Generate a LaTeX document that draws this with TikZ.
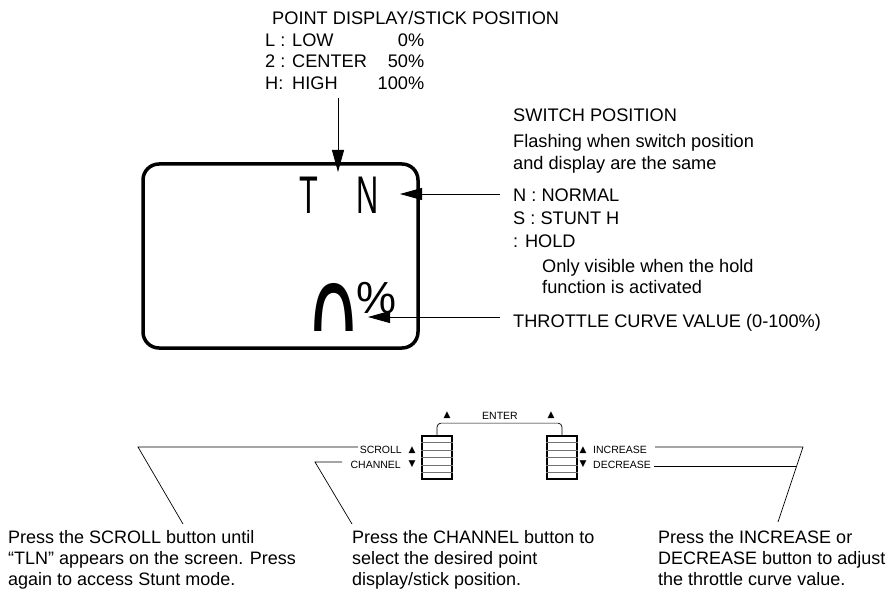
\documentclass[tikz,border=0pt]{standalone}
\usepackage{fontspec}
\usepackage{graphicx}
\setmainfont{Liberation Sans}
\newfontfamily\symfont{DejaVu Sans}
\usetikzlibrary{arrows.meta,calc}
\begin{document}
\begin{tikzpicture}[x=1pt,y=-1pt,
  lbl/.style={anchor=base west, inner sep=0pt, font=\fontsize{18.2}{21}\selectfont},
  para/.style={anchor=north west, align=left, inner sep=0pt, font=\fontsize{18}{21}\selectfont},
  small/.style={inner sep=0pt, font=\fontsize{10.5}{12}\selectfont},
  tri/.style={inner sep=0pt, font=\symfont\fontsize{9}{9}\selectfont},
  ptr/.style={line width=0.9pt, -{Triangle[length=22pt,width=12pt]}},
  lead/.style={line width=0.7pt},
  btnbox/.style={draw, line width=1.8pt, minimum width=30pt, minimum height=43pt, inner sep=0pt},
  btnline/.style={line width=0.8pt, black!55}]
\useasboundingbox (0,0) rectangle (888,593);

% top block
\node[lbl] (hdr) at (272,25) {POINT DISPLAY/STICK POSITION};
\node[lbl] (pl) at (265,47) {\makebox[159pt][l]{\makebox[27pt][l]{L :}LOW\hfill 0\%}};
\node[lbl] (pc) at (265,68) {\makebox[159pt][l]{\makebox[27pt][l]{2 :}CENTER\hfill 50\%}};
\node[lbl] (ph) at (265,90) {\makebox[159pt][l]{\makebox[27pt][l]{H:}HIGH\hfill 100\%}};
\coordinate (ptTop) at (338,98);
\coordinate (ptTip) at (338,172);
\draw[ptr] (ptTop) -- (ptTip);

% display
\node[draw, line width=3.5pt, rounded corners=16pt, minimum width=275pt, minimum height=184pt, inner sep=0pt] (disp) at (280.5,256) {};
\node[anchor=base, inner sep=0pt] (dT) at (308.5,214) {\scalebox{0.58}[1]{\fontsize{53}{53}\selectfont T}};
\node[anchor=base, inner sep=0pt] (dN) at (367.5,214) {\scalebox{0.58}[1]{\fontsize{53}{53}\selectfont N}};
\begin{scope}
\clip (143,164) rectangle (418,330);
\node[anchor=base, inner sep=0pt] (dZero) at (334,380) {\scalebox{0.58}[1]{\fontsize{139}{139}\selectfont 0}};
\end{scope}
\node[anchor=base west, inner sep=0pt] (dPct) at (356,313) {\fontsize{45}{45}\selectfont\%};

% right labels
\node[lbl] (swh) at (513,122) {SWITCH POSITION};
\node[lbl] (sw1) at (513,148) {Flashing when switch position};
\node[lbl] (sw2) at (513,170) {and display are the same};
\node[lbl] (swn) at (513,202) {N : NORMAL};
\node[lbl] (sws) at (513,225) {S : STUNT H};
\node[lbl] (swhold) at (513,248) {: HOLD};
\node[lbl] (hold1) at (542,273) {Only visible when the hold};
\node[lbl] (hold2) at (542,294) {function is activated};
\node[lbl] (thr) at (513,327) {THROTTLE CURVE VALUE (0-100\%)};
\coordinate (nA) at (500,194);
\coordinate (nTip) at (400,194);
\draw[ptr] (nA) -- (nTip);
\coordinate (tA) at (500,317);
\coordinate (tTip) at (368,317);
\draw[ptr] (tA) -- (tTip);

% buttons
\node[btnbox] (lb) at (437,457.5) {};
\node[btnbox] (rb) at (562,457.5) {};
\foreach \b in {lb,rb}{
  \foreach \i in {1,...,5}{
    \draw[btnline] ($(\b.north west)!\i/6!(\b.south west)$) -- ($(\b.north east)!\i/6!(\b.south east)$);
  }
}
\draw[lead, rounded corners=4pt] (lb.north) -- ++(0,-12) -| (rb.north);
\node[small] (enter) at (500,416) {ENTER};
\node[tri] (eu1) at (447,415) {▲};
\node[tri] (eu2) at (551,415) {▲};

\node[small, anchor=east] (scroll) at (402,450) {SCROLL};
\node[small, anchor=east] (chan) at (401,464.5) {CHANNEL};
\node[tri] (su) at (412,450) {▲};
\node[tri] (cd) at (412,464.5) {▼};
\node[tri] (iu) at (583,450) {▲};
\node[tri] (dd) at (583,464.5) {▼};
\node[small, anchor=west] (inc) at (593,450) {INCREASE};
\node[small, anchor=west] (dec) at (593,464.5) {DECREASE};

% bottom texts
\node[para] (ts) at (8,530) {Press the SCROLL button until\\“TLN” appears on the screen. Press\\again to access Stunt mode.};
\node[para] (tc) at (352,530) {Press the CHANNEL button to\\select the desired point\\display/stick position.};
\node[para] (ti) at (658,530) {Press the INCREASE or\\DECREASE button to adjust\\the throttle curve value.};

% leaders
\coordinate (sEnd) at (358,447);
\coordinate (sK) at (138,447);
\coordinate (sB) at (183,524);
\draw[lead] (sEnd) -- (sK) -- (sB);
\coordinate (cEnd) at (342,462);
\coordinate (cK) at (315,462);
\coordinate (cB) at (352,524);
\draw[lead] (cEnd) -- (cK) -- (cB);
\coordinate (iEnd) at (655,447);
\coordinate (iK) at (803,447);
\coordinate (iB) at (778,522);
\draw[lead] (iEnd) -- (iK) -- (iB);
\coordinate (dEnd) at (654,466);
\coordinate (dK) at (797,466);
\draw[lead] (dEnd) -- (dK);
\end{tikzpicture}
\end{document}
